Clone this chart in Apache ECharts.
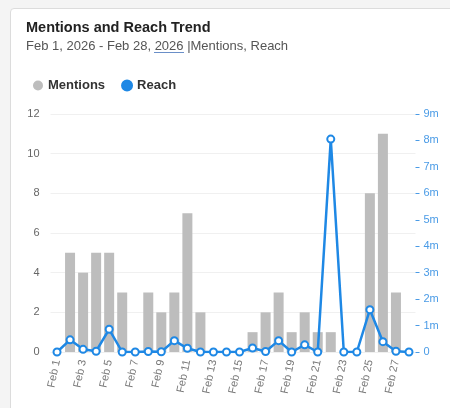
<!DOCTYPE html>
<html>
<head>
<meta charset="utf-8">
<script src="https://cdn.jsdelivr.net/npm/echarts@6/dist/echarts.min.js"></script>
<style>
  html, body { margin: 0; padding: 0; background: #f4f4f4; }
  #wrap { position: relative; width: 450px; height: 408px; overflow: hidden; }
  #card { position: absolute; left: 10px; top: 8px; width: 480px; height: 440px;
          background: #fff; border: 1px solid #dcdcdc; border-radius: 4px; }
  #chart { position: absolute; left: 0; top: 0; width: 450px; height: 408px; }
</style>
</head>
<body>
<div id="wrap">
  <div id="card"></div>
  <div id="chart"></div>
</div>
<script>
// Daily labels for February 2026
const days = ['Feb 1','Feb 2','Feb 3','Feb 4','Feb 5','Feb 6','Feb 7','Feb 8','Feb 9','Feb 10',
  'Feb 11','Feb 12','Feb 13','Feb 14','Feb 15','Feb 16','Feb 17','Feb 18','Feb 19','Feb 20',
  'Feb 21','Feb 22','Feb 23','Feb 24','Feb 25','Feb 26','Feb 27','Feb 28'];

// Mentions per day (count)
const mentions = [0, 5, 4, 5, 5, 3, 0, 3, 2, 3, 7, 2, 0, 0, 0, 1, 2, 3, 1, 2, 1, 1, 0, 0, 8, 11, 3, 0];

// Reach per day (people)
const reach = [0, 460000, 100000, 30000, 860000, 0, 0, 20000, 10000, 430000,
  140000, 0, 0, 0, 0, 150000, 20000, 430000, 0, 270000,
  0, 8050000, 0, 0, 1600000, 390000, 30000, 0];

const mentionTicks = { min: 0, max: 12, interval: 2 };
const reachTicks = { min: 0, max: 9000000, interval: 1000000 };

const grey = '#bdbdbd';
const blue = '#1e88e5';
const font = 'Liberation Sans, Arial, Helvetica, sans-serif';

const chart = echarts.init(document.getElementById('chart'), null, { renderer: 'canvas' });
chart.setOption({
  backgroundColor: 'transparent',
  textStyle: { fontFamily: font },
  title: {
    text: 'Mentions and Reach Trend',
    subtext: 'Feb 1, 2026 - Feb 28, 2026 |Mentions, Reach',
    left: 21, top: 15, itemGap: 5,
    textStyle: { fontSize: 14.5, fontWeight: 'bold', color: '#222', fontFamily: font },
    subtextStyle: { fontSize: 13, color: '#555', fontFamily: font }
  },
  graphic: [{
    type: 'line', shape: { x1: 154, y1: 52.5, x2: 184, y2: 52.5 },
    style: { stroke: '#6a8fc8', lineWidth: 1 }
  }],
  legend: {
    left: 28, top: 74, icon: 'circle', itemWidth: 10, itemHeight: 10, itemGap: 16,
    textStyle: { fontSize: 13, fontWeight: 'bold', color: '#333', fontFamily: font },
    data: [{ name: 'Mentions', itemStyle: { color: grey } }, { name: 'Reach', itemStyle: { color: blue } }]
  },
  grid: { left: 50.5, right: 34.5, top: 114, bottom: 56, containLabel: false },
  xAxis: {
    type: 'category', data: days, boundaryGap: true,
    axisLine: { show: false }, axisTick: { show: false },
    axisLabel: { interval: 1, rotate: 78, color: '#777', fontSize: 11, margin: 8, fontFamily: font }
  },
  yAxis: [{
    type: 'value', position: 'left', ...mentionTicks,
    axisLine: { show: false }, axisTick: { show: false },
    axisLabel: { color: '#666', fontSize: 11, margin: 11, fontFamily: font },
    splitLine: { lineStyle: { color: '#f0f0f0' } }
  }, {
    type: 'value', position: 'right', ...reachTicks,
    axisLine: { show: false },
    axisTick: { show: true, length: 4, inside: false, lineStyle: { color: '#4a9be6' } },
    axisLabel: { color: '#4a9be6', fontSize: 11, margin: 8, fontFamily: font,
      formatter: v => v === 0 ? '0' : (v / 1000000) + 'm' },
    splitLine: { show: false }
  }],
  series: [{
    name: 'Mentions', type: 'bar', yAxisIndex: 0, data: mentions,
    barWidth: 10, itemStyle: { color: grey }, silent: true
  }, {
    name: 'Reach', type: 'line', yAxisIndex: 1, data: reach,
    symbol: 'emptyCircle', symbolSize: 7, showAllSymbol: true,
    lineStyle: { color: blue, width: 2.5 },
    itemStyle: { color: blue, borderWidth: 2, borderColor: blue },
    silent: true, animation: false
  }],
  animation: false
});
</script>
</body>
</html>
